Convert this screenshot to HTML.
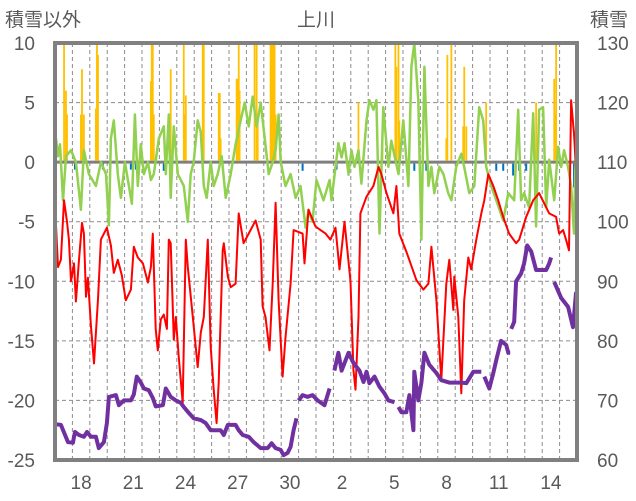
<!DOCTYPE html>
<html><head><meta charset="utf-8">
<style>
html,body{margin:0;padding:0;background:#fff;}
svg{display:block;font-family:"Liberation Sans","Noto Sans CJK JP",sans-serif;}
</style></head>
<body>
<svg id="chart" width="636" height="501" viewBox="0 0 636 501" xmlns="http://www.w3.org/2000/svg">
<text x="316" y="26" font-size="19" fill="#595959" text-anchor="middle">上川</text>
<text x="5" y="26" font-size="19" fill="#595959">積雪以外</text>
<text x="590" y="26" font-size="19" fill="#595959">積雪</text>
<g id="grid"></g>
<g id="marks"></g>
<g id="axes"></g>
</svg>
<script>
// ---- data ----
const leftTicks = [10,5,0,-5,-10,-15,-20,-25];
const rightTicks = [130,120,110,100,90,80,70,60];
const dayLabels = ["18","21","24","27","30","2","5","8","11","14"];
const dayLabelPos = [1.5,4.5,7.5,10.5,13.5,16.5,19.5,22.5,25.5,28.5];

const redT = [0.06,0.17,0.34,0.52,0.69,0.80,0.92,1.09,1.20,1.38,1.55,1.66,1.78,1.89,2.07,2.24,2.47,2.64,2.98,3.21,3.38,3.61,3.84,4.07,4.36,4.53,4.76,5.05,5.34,5.51,5.62,5.79,5.91,6.08,6.25,6.43,6.54,6.65,6.83,6.94,7.11,7.34,7.52,7.63,7.92,8.20,8.38,8.55,8.78,8.95,9.12,9.29,9.41,9.64,9.70,9.93,10.10,10.38,10.56,10.84,11.13,11.53,11.82,11.93,12.10,12.33,12.51,12.68,12.85,13.08,13.25,13.54,13.71,14.23,14.34,14.57,14.97,15.26,15.55,15.83,16.12,16.35,16.64,16.98,17.15,17.27,17.44,17.55,17.90,18.30,18.59,18.76,19.05,19.45,19.62,19.79,20.19,20.77,21.17,21.46,21.63,21.92,22.20,22.49,22.66,22.89,22.95,23.18,23.35,23.52,23.75,23.92,24.21,24.50,24.67,24.90,25.19,25.47,25.76,26.10,26.50,26.68,27.08,27.48,27.82,28.23,28.40,28.80,28.97,29.20,29.37,29.54,29.66,29.83,30.0];
const redV = [-5.3,-8.8,-8.2,-3.2,-5,-6.5,-10,-8.5,-11.7,-8.2,-5.1,-6,-11.3,-9.7,-13.8,-16.9,-11.5,-6.5,-5.5,-7,-9.3,-8.2,-9.5,-11.6,-10.7,-7.1,-8,-8.5,-10.1,-8.8,-6,-14,-15.8,-13.2,-12.8,-14,-6.5,-6.8,-14.9,-13,-16.3,-20.2,-6.5,-8.8,-13,-17.2,-14.3,-13,-6.5,-15.5,-19.1,-21.9,-18.5,-7.4,-6.8,-9.6,-10.5,-10.2,-4.3,-6.8,-6,-4.9,-6.5,-12.1,-13,-15.8,-10.2,-3.4,-11.6,-18,-14.7,-10.2,-5.7,-6,-8.5,-4,-5.4,-5.7,-6,-6.5,-5.5,-9,-5,-10,-17.4,-19.1,-13,-4.3,-2.9,-2,-0.4,-1,-2.6,-4.3,-2,-6,-7.5,-9.9,-10.7,-10.2,-7.1,-11.6,-18.3,-10.2,-8.2,-12.4,-9.6,-13,-19.4,-11.6,-8,-9,-6.5,-4.3,-3.2,-1,-2,-3.2,-4.6,-6,-6.8,-6.5,-4.6,-3.2,-2.6,-3.8,-4.3,-4.6,-6,-5.7,-6.5,-7.4,5.2,2.4,-2];

const greenT = [0.06,0.17,0.29,0.46,0.63,0.92,1.20,1.49,1.66,1.95,2.35,2.64,2.93,3.10,3.21,3.38,3.61,3.79,4.02,4.25,4.42,4.59,4.76,4.93,5.11,5.34,5.51,5.68,5.97,6.25,6.37,6.54,6.65,6.83,7.06,7.40,7.63,7.80,7.97,8.20,8.38,8.55,8.72,8.95,9.12,9.35,9.58,9.81,10.10,10.38,10.67,10.90,11.13,11.36,11.59,11.82,12.05,12.28,12.51,12.68,12.85,12.97,13.25,13.54,13.83,14.11,14.40,14.57,14.80,15.03,15.43,15.78,15.89,16.29,16.47,16.64,16.87,17.04,17.21,17.44,17.61,17.90,18.07,18.30,18.47,18.65,18.87,19.16,19.33,19.74,20.02,20.31,20.48,20.65,20.88,21.06,21.23,21.46,21.63,21.80,22.09,22.32,22.60,22.78,23.06,23.35,23.52,23.81,24.10,24.38,24.61,24.78,25.07,25.36,25.76,26.05,26.39,26.62,26.79,26.96,27.25,27.48,27.65,27.82,28.05,28.23,28.40,28.69,28.92,29.09,29.26,29.49,29.66,29.83,30.0];
const greenV = [2,0.5,1.5,-3.2,0.5,1,0,-4,1,-1,-2,0,-1,-5.3,2,3.5,-1,-3,0,-2,-3.5,4,-2,1.5,-1,0,-1.5,-1,2,3,-1,4,-3,3,-1,-2,-5,-1,0,3.5,2.5,-2,-3,0,-2,-1,0.5,-3,-1,1.5,3.5,5,3,5.5,3,5,2,-1,0,1,4,0,-2,-1,-3,-2,-5.5,-4,-5,-1.5,-3.2,-1.5,-3.2,1.6,0.4,1.6,-1,1,-0.4,1,-1.8,3.5,5.2,4.4,5.2,-6,4.6,-0.4,1.8,-1,3.5,-2,8,10,5.2,-6.5,8,-2,-0.4,-2.6,-0.4,-1,-2.6,-3.2,-0.4,0.7,-0.4,-2.6,-2,4.6,3.5,-0.4,-2,-3.2,-4.9,-2.6,-3.2,4.4,-3.2,-2.6,-3.8,4.1,-5.4,4.4,4.6,-3.8,0.2,-3.2,1.3,-0.4,1,-0.4,-2,-6,6];

const snowT = [0.06,0.34,0.75,1.03,1.15,1.38,1.66,1.84,2.07,2.35,2.52,2.81,2.98,3.10,3.50,3.67,3.96,4.36,4.53,4.70,4.93,5.11,5.39,5.62,5.79,6.20,6.37,6.65,6.94,7.23,7.40,7.69,7.97,8.38,8.66,8.95,9.52,9.70,9.93,10.38,10.56,10.79,11.13,11.42,11.82,12.22,12.45,12.68,12.97,13.14,13.37,13.54,13.71,13.88,13.94,14.00,14.23,14.51,14.80,15.09,15.49,15.78,15.92,16.06,16.29,16.47,16.87,17.15,17.50,17.73,17.90,18.07,18.36,18.65,18.93,19.16,19.51,19.62,19.74,19.91,20.19,20.37,20.60,20.65,20.88,21.06,21.23,21.51,21.92,22.20,22.66,23.35,23.64,24.04,24.50,24.58,24.67,24.96,25.19,25.36,25.64,25.93,26.05,26.16,26.19,26.22,26.39,26.50,26.79,26.96,27.14,27.37,27.65,28.23,28.40,28.51,28.60,28.69,29.09,29.49,29.77,29.94,30.0];
const snowV = [66,65.9,63,62.9,64.7,64.2,63.9,64.7,63.9,63.9,62,63,66.2,70.6,70.9,69.2,70,70,71,74,73,72,71.7,70.4,69,69.2,72,70.6,70,69.6,68.9,67.9,67,66.7,66.2,65,65,64.2,65.9,65.9,65,64.2,63.9,63,62,62,62.8,62,61.7,60.8,61.2,62.2,65,67,null,70,70.9,70.6,70.9,70,69.2,72,null,75,78,75,78,76.3,75,73.1,74.8,72.9,74,72.3,71.2,70,69.7,null,68.9,68,68,70.9,65,74.8,70,73,78,76,74.6,73.4,73,73,72.9,74.8,74.8,null,74,72,74.6,76.8,80,79.3,78,78,null,82,83.2,90,91.3,93,96,95,91.9,91.9,93,94,null,89.9,87.2,85.7,82.3,88,86];

const snowfallT = [0.52,0.63,0.69,1.49,1.55,1.66,2.35,2.41,2.47,5.51,5.56,5.62,5.68,6.65,7.40,7.46,7.52,8.49,8.55,9.41,9.47,9.52,10.44,10.50,10.56,10.61,11.47,11.59,11.65,12.39,12.45,12.51,12.56,12.62,12.68,17.44,18.82,19.56,19.62,19.74,19.79,22.49,22.55,22.78,23.46,23.52,23.64,24.78,27.65,28.69,28.74,28.80];
const snowfallV = [10,6,4,4,7.8,4,4.5,10,9,6.8,10,10,4,7.8,10,4,5.6,10,10,5.8,5.8,2,7,7,10,6,10,10,3.5,10,10,10,10,10,4,5,2,10,8,10,3.5,2,9,10,3,8,3,5,5,7,4,10];

const meltT = [1.15,2.75,3.16,4.36,4.65,6.25,14.23,16.18,16.87,20.65,21.34,25.36,25.76,26.33,26.68,27.08,28.40,29.83];
const meltV = [-0.5,-0.5,-0.5,-0.5,-0.5,-0.6,-0.6,-0.5,-1,-0.6,-0.6,-0.6,-0.6,-1,-0.6,-0.6,-0.6,-2];

// ---- scales ----
const X0=55, X1=577, Y0=43, Y1=460;
const xS = t => X0 + (t/30)*(X1-X0);
const yL = v => Y0 + (10-v)/35*(Y1-Y0);
const yR = v => Y0 + (130-v)/70*(Y1-Y0);
const NS="http://www.w3.org/2000/svg";
function mk(tag, parent, attrs){const e=document.createElementNS(NS,tag);for(const k in attrs)e.setAttribute(k,attrs[k]);parent.appendChild(e);return e;}

const grid=document.getElementById('grid'), marks=document.getElementById('marks'), axes=document.getElementById('axes');

// gridlines
for(let d=1; d<30; d++){
  const l=mk('line',grid,{x1:xS(d),x2:xS(d),y1:Y0,y2:Y1,stroke:'#8c8c8c','stroke-width':1,'stroke-dasharray':'4,3'});
  
  
}
leftTicks.forEach(v=>{
  if(v===10||v===-25||v===0) return;
  const l=mk('line',grid,{x1:X0,x2:X1,y1:yL(v),y2:yL(v),stroke:'#8c8c8c','stroke-width':1,'stroke-dasharray':'4,3'});
  
  
});

// zero line
const z=mk('line',marks,{x1:X0,x2:X1,y1:yL(0),y2:yL(0),stroke:'#7f7f7f','stroke-width':3});



// snowfall bars
snowfallT.forEach((t,i)=>{
  const y=yL(snowfallV[i]);
  const r=mk('rect',marks,{x:xS(t)-0.9,y:y,width:1.8,height:yL(0)-1.5-y,fill:'#FFC000'});
  
  
});
meltT.forEach((t,i)=>{
  const y=yL(meltV[i]);
  const r=mk('rect',marks,{x:xS(t)-1,y:yL(0)+1.5,width:2,height:y-yL(0),fill:'#0070C0'});
  
  
});

function pathFrom(T,V,ys){
  let d='',pen=false;
  T.forEach((t,i)=>{const v=V[i]; if(v===null){pen=false;return;} d+=(pen?'L':'M')+xS(t).toFixed(1)+','+ys(v).toFixed(1); pen=true;});
  return d;
}
const g=mk('path',marks,{d:pathFrom(greenT,greenV,yL),fill:'none',stroke:'#92D050','stroke-width':2.5,'stroke-linejoin':'round'});


const r=mk('path',marks,{d:pathFrom(redT,redV,yL),fill:'none',stroke:'#FF0000','stroke-width':2,'stroke-linejoin':'round'});


const p=mk('path',marks,{d:pathFrom(snowT,snowV,yR),fill:'none',stroke:'#7030A0','stroke-width':4,'stroke-linejoin':'round'});



// frame
const f=mk('rect',axes,{x:X0,y:Y0,width:X1-X0,height:Y1-Y0,fill:'none',stroke:'#808080','stroke-width':4});



leftTicks.forEach(v=>{
  const t=mk('text',axes,{x:35,y:yL(v)+7,'font-size':19,fill:'#595959','text-anchor':'end'});
  t.textContent=v;
  
  
});
rightTicks.forEach(v=>{
  const t=mk('text',axes,{x:597,y:yR(v)+7,'font-size':19,fill:'#595959'});
  t.textContent=v;
  
  
});
dayLabels.forEach((s,i)=>{
  const t=mk('text',axes,{x:xS(dayLabelPos[i]),y:489,'font-size':19,fill:'#595959','text-anchor':'middle'});
  t.textContent=s;
  
  
});
</script>
</body></html>
